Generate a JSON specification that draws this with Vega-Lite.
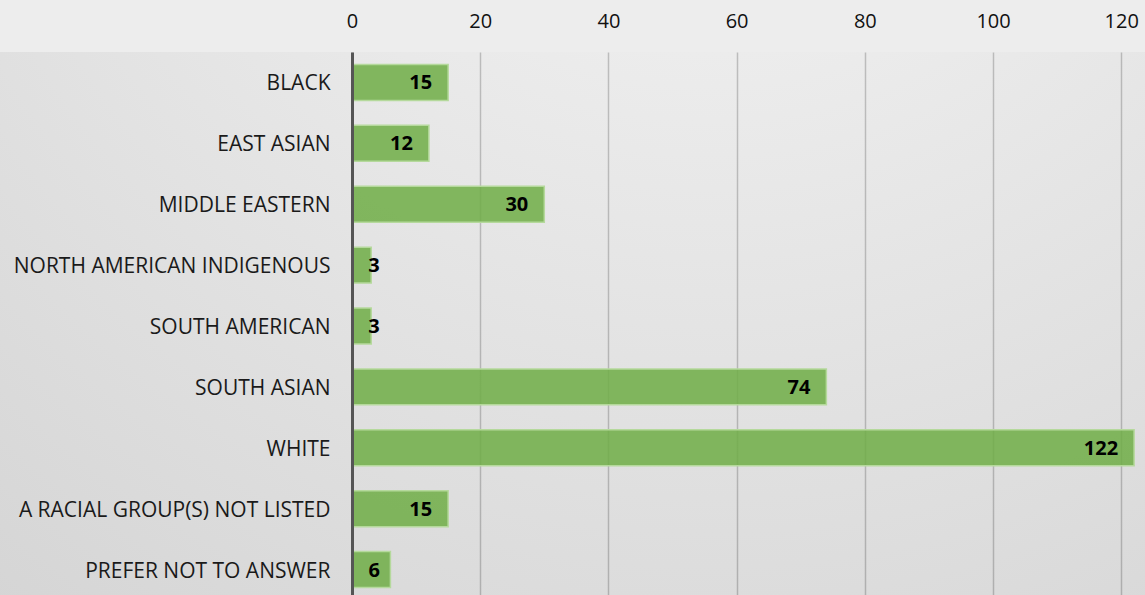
{
  "$schema": "https://vega.github.io/schema/vega-lite/v6.json",
  "width": 1145,
  "height": 548,
  "autosize": "none",
  "padding": {"top": 52, "left": 0, "right": 0, "bottom": 0},
  "background": "#ededed",
  "config": {
    "view": {
      "stroke": null,
      "fill": {
        "gradient": "radial",
        "x1": 0.62, "y1": -0.1, "r1": 0.0,
        "x2": 0.62, "y2": -0.1, "r2": 1.26,
        "stops": [
          {"offset": 0, "color": "#f8f8f8"},
          {"offset": 1, "color": "#cecece"}
        ]
      }
    },
    "font": "Open Sans"
  },
  "data": {
    "values": [
      {"race": "BLACK", "count": 15},
      {"race": "EAST ASIAN", "count": 12},
      {"race": "MIDDLE EASTERN", "count": 30},
      {"race": "NORTH AMERICAN INDIGENOUS", "count": 3},
      {"race": "SOUTH AMERICAN", "count": 3},
      {"race": "SOUTH ASIAN", "count": 74},
      {"race": "WHITE", "count": 122},
      {"race": "A RACIAL GROUP(S) NOT LISTED ", "count": 15},
      {"race": "PREFER NOT TO ANSWER", "count": 6}
    ]
  },
  "encoding": {
    "y": {
      "field": "race", "type": "nominal", "sort": null,
      "scale": {"paddingInner": 0.41, "paddingOuter": 0.205},
      "axis": {
        "orient": "left", "offset": -352, "ticks": false, "labelPadding": 22, "labelOffset": 2,
        "domain": true, "domainColor": "#555555", "domainWidth": 3, "zindex": 1,
        "labelFont": "Open Sans", "labelFontSize": 21, "labelColor": "#1a1a1a",
        "labelLimit": 400, "title": null, "grid": false
      }
    },
    "x": {
      "field": "count", "type": "quantitative",
      "scale": {"domain": [-54.9, 123.7], "nice": false, "zero": false},
      "axis": {
        "orient": "top", "values": [0, 20, 40, 60, 80, 100, 120],
        "domain": false, "ticks": false, "labelPadding": 21,
        "grid": true, "gridColor": "#000000", "gridOpacity": 0.2, "gridWidth": 1.5,
        "labelFont": "Open Sans", "labelFontSize": 20, "labelColor": "#111111",
        "labelFlush": false, "labelOverlap": false, "title": null
      }
    }
  },
  "layer": [
    {
      "mark": {"type": "bar", "fill": "#70ad47", "fillOpacity": 0.86, "stroke": "#b5d99c", "strokeWidth": 1.5}
    },
    {
      "transform": [{"filter": "datum.count >= 10"}],
      "mark": {"type": "text", "align": "right", "baseline": "middle", "dx": -16, "dy": 1, "fontWeight": "bold", "fontSize": 20, "color": "#000000"},
      "encoding": {
        "text": {"field": "count", "type": "quantitative"}
      }
    },
    {
      "transform": [{"filter": "datum.count == 3"}],
      "mark": {"type": "text", "align": "left", "baseline": "middle", "dx": -3, "dy": 1, "fontWeight": "bold", "fontSize": 20, "color": "#000000"},
      "encoding": {
        "text": {"field": "count", "type": "quantitative"}
      }
    },
    {
      "transform": [{"filter": "datum.count == 6"}],
      "mark": {"type": "text", "align": "left", "baseline": "middle", "dx": -22, "dy": 1, "fontWeight": "bold", "fontSize": 20, "color": "#000000"},
      "encoding": {
        "text": {"field": "count", "type": "quantitative"}
      }
    }
  ]
}
